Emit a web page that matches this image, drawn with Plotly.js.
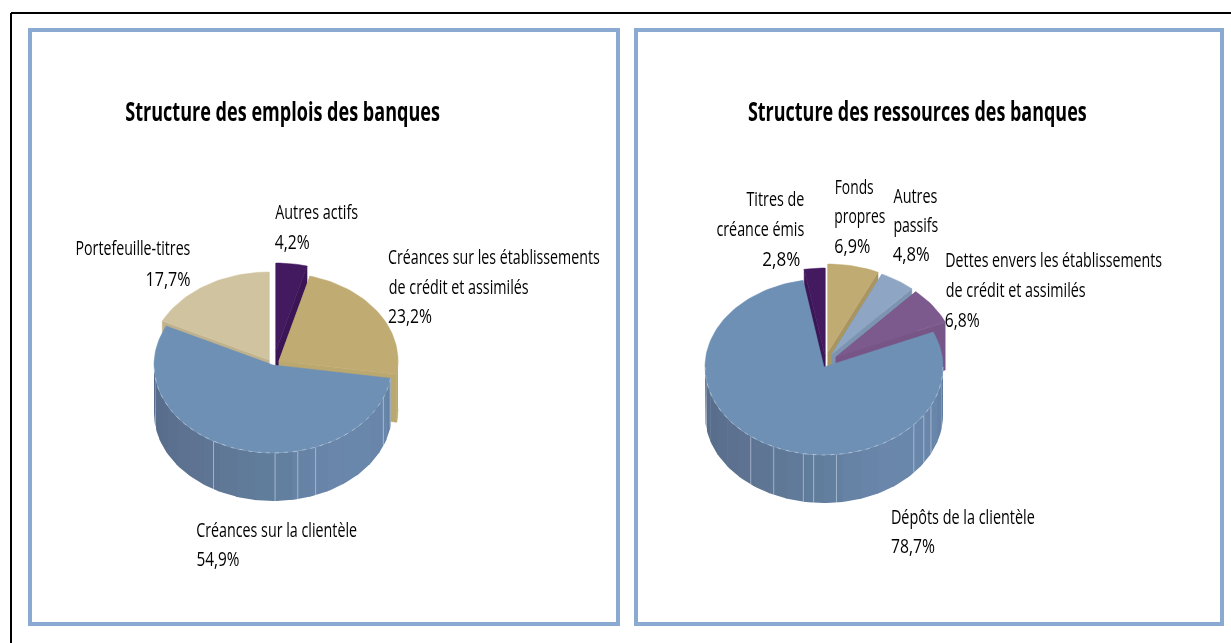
<!DOCTYPE html>
<html><head><meta charset="utf-8">
<script src="https://cdn.plot.ly/plotly-3.0.1.min.js"></script>
<style>html,body{margin:0;padding:0;background:#fff;overflow:hidden}#chart{width:1231px;height:643px;filter:blur(0.55px)}</style>
</head><body><div id="chart"></div>
<script>
// Data
const emploisCategories = ["Autres actifs","Créances sur les établissements de crédit et assimilés","Créances sur la clientèle","Portefeuille-titres"];
const emploisValues = [4.2,23.2,54.9,17.7];
const ressourcesCategories = ["Fonds propres","Autres passifs","Dettes envers les établissements de crédit et assimilés","Dépôts de la clientèle","Titres de créance émis"];
const ressourcesValues = [6.9,4.8,6.8,78.7,2.8];
const titleEmplois = "Structure des emplois des banques";
const titleRessources = "Structure des ressources des banques";

// Styling / geometry (pixel-valued axes)
const RX=119, RY=88, DEPTH=48;
const FONT='"Open Sans","Noto Sans",sans-serif';
const emploisStyle=[
 {top:'#43195f',wall:'#3b1555',cx:276,cy:351},
 {top:'#c0ab72',wall:'#bba86f',cx:279,cy:361},
 {top:'#6f90b5',wall:null,cx:273,cy:365},
 {top:'#d0c4a0',wall:'#bfb28c',cx:269,cy:360}];
const ressourcesStyle=[
 {top:'#c0ab72',wall:'#a8955f',cx:828,cy:352},
 {top:'#8ea6c4',wall:'#7d94b0',cx:832,cy:354},
 {top:'#7c5a8d',wall:'#775587',cx:836,cy:357},
 {top:'#6f90b5',wall:null,cx:824,cy:367},
 {top:'#43195f',wall:'#3b1555',cx:825,cy:356}];
const emploisOrder=[3,0,1,2];
const ressourcesOrder=[4,0,1,2,3];
const emploisRibs=[210,179,168,159,112,100];
const ressourcesRibs=[218,205,190,185,174,131,123,116];
const shadeStops=[[90,[94,124,158]],[110,[104,133,170]],[150,[106,134,171]],[180,[98,126,158]],[215,[94,116,146]],[250,[88,110,140]],[270,[86,108,138]]];

function pt(s,a,dy){const r=a*Math.PI/180;return [s.cx+RX*Math.sin(r),s.cy-RY*Math.cos(r)+(dy||0)];}
function arc(s,a0,a1,dy){const out=[],n=Math.max(2,Math.ceil(Math.abs(a1-a0)/2));for(let i=0;i<=n;i++)out.push(pt(s,a0+(a1-a0)*i/n,dy));return out;}
function poly(points,color,w){return {type:'scatter',mode:'lines',x:points.map(p=>p[0]),y:points.map(p=>p[1]),fill:'toself',fillcolor:color,line:{width:w===undefined?0.5:w,color:color},hoverinfo:'skip',showlegend:false};}
function shade(a){for(let i=1;i<shadeStops.length;i++){if(a<=shadeStops[i][0]){const [a0,c0]=shadeStops[i-1],[a1,c1]=shadeStops[i],t=(a-a0)/(a1-a0);return 'rgb('+c0.map((v,k)=>Math.round(v+(c1[k]-v)*t)).join(',')+')';}}return 'rgb(86,108,138)';}

function pieTraces(values,styles,order,ribs){
  const traces=[];let acc=0;const spans=values.map(v=>{const a=acc;acc+=v/100*360;return [a,acc];});
  order.forEach(i=>{
    const s=styles[i],[a0,a1]=spans[i];
    const c=[s.cx,s.cy],cb=[s.cx,s.cy+DEPTH];
    const v0=Math.max(a0,90),v1=Math.min(a1,270);
    if(s.wall){
      traces.push(poly([c,pt(s,a1),pt(s,a1,DEPTH),cb,c],s.wall));
      traces.push(poly([c,pt(s,a0),pt(s,a0,DEPTH),cb,c],s.wall));
      if(v1>v0)traces.push(poly(arc(s,v0,v1,0).concat(arc(s,v1,v0,DEPTH)),s.wall));
    } else if(v1>v0){
      for(let a=v0;a<v1;a+=9){const b=Math.min(a+9.5,v1);traces.push(poly(arc(s,a,b,0).concat(arc(s,b,a,DEPTH)),shade((a+b)/2),0));}
      ribs.forEach(a=>{const p=pt(s,a),q=pt(s,a,DEPTH);traces.push({type:'scatter',mode:'lines',x:[p[0],q[0]],y:[p[1],q[1]],line:{width:1,color:'rgba(215,225,238,0.55)'},hoverinfo:'skip',showlegend:false});});
    }
    traces.push(poly([c].concat(arc(s,a0,a1,0)).concat([c]),s.top));
    if(!s.wall&&v1>v0){const e=arc(s,v0,v1,0);traces.push({type:'scatter',mode:'lines',x:e.map(p=>p[0]),y:e.map(p=>p[1]),line:{width:1,dash:'4px,5px',color:'rgba(225,232,242,0.45)'},hoverinfo:'skip',showlegend:false});}
  });
  return traces;
}
const pct=v=>v.toFixed(1).replace('.',',')+'%';

// label lines: text, left px, right px, y centre
const labelRows=[
 ["Autres actifs",275,358,211],[pct(emploisValues[0]),275,310,241],
 ["Créances sur les établissements",388,600,256],["de crédit et assimilés",388,528,286],[pct(emploisValues[1]),388,432,315],
 ["Créances sur la clientèle",196,357,529],[pct(emploisValues[2]),196,239,558],
 ["Portefeuille-titres",75,190,247],[pct(emploisValues[3]),145,190,278],
 ["Fonds",834,873,186],["propres",834,885,215],[pct(ressourcesValues[0]),834,870,245],
 ["Autres",893,937,195],["passifs",893,938,224],[pct(ressourcesValues[1]),893,930,253],
 ["Dettes envers les établissements",945,1162,259],["de crédit et assimilés",945,1085,289],[pct(ressourcesValues[2]),945,980,319],
 ["Dépôts de la clientèle",891,1035,516],[pct(ressourcesValues[3]),891,935,545],
 ["Titres de",746,804,198],["créance émis",716,804,228],[pct(ressourcesValues[4]),762,800,258]
];
const titleRows=[[titleEmplois,125,440,111],[titleRessources,748,1087,111]];
const annotations=labelRows.map(r=>({text:r[0],x:(r[1]+r[2])/2,y:r[3],xref:'x',yref:'y',xanchor:'center',yanchor:'middle',showarrow:false,font:{family:FONT,size:20,color:'#000'}}))
 .concat(titleRows.map(r=>({text:r[0],x:(r[1]+r[2])/2,y:r[3],xref:'x',yref:'y',xanchor:'center',yanchor:'middle',showarrow:false,font:{family:FONT,size:26,weight:700,color:'#000'}})));

const panel=(x0,x1)=>({type:'rect',xref:'x',yref:'y',x0,x1,y0:30,y1:624,line:{color:'#8aaad2',width:4},fillcolor:'rgba(0,0,0,0)'});
const shapes=[
 {type:'line',xref:'x',yref:'y',x0:11,x1:1231,y0:13,y1:13,line:{color:'#000',width:2}},
 {type:'line',xref:'x',yref:'y',x0:11,x1:11,y0:13,y1:643,line:{color:'#000',width:2}},
 panel(30,618),panel(636,1222)];

const traces=pieTraces(emploisValues,emploisStyle,emploisOrder,emploisRibs).concat(pieTraces(ressourcesValues,ressourcesStyle,ressourcesOrder,ressourcesRibs));
Plotly.newPlot('chart',traces,{
  width:1231,height:643,margin:{l:0,r:0,t:0,b:0},paper_bgcolor:'#fff',plot_bgcolor:'#fff',showlegend:false,
  xaxis:{range:[0,1231],visible:false,fixedrange:true},
  yaxis:{range:[643,0],visible:false,fixedrange:true},
  shapes,annotations
},{displayModeBar:false,staticPlot:true}).then(()=>{
  // Condense each line horizontally to the width it has in the reference.
  const rows=labelRows.concat(titleRows);
  document.querySelectorAll('#chart .annotation-text').forEach((el,i)=>{
    const w=el.getComputedTextLength(), target=rows[i][2]-rows[i][1];
    const cx=parseFloat(el.getAttribute('x'))||0;
    el.setAttribute('transform','translate('+cx+',0) scale('+(target/w)+',1) translate('+(-cx)+',0)');
  });
});
</script></body></html>
